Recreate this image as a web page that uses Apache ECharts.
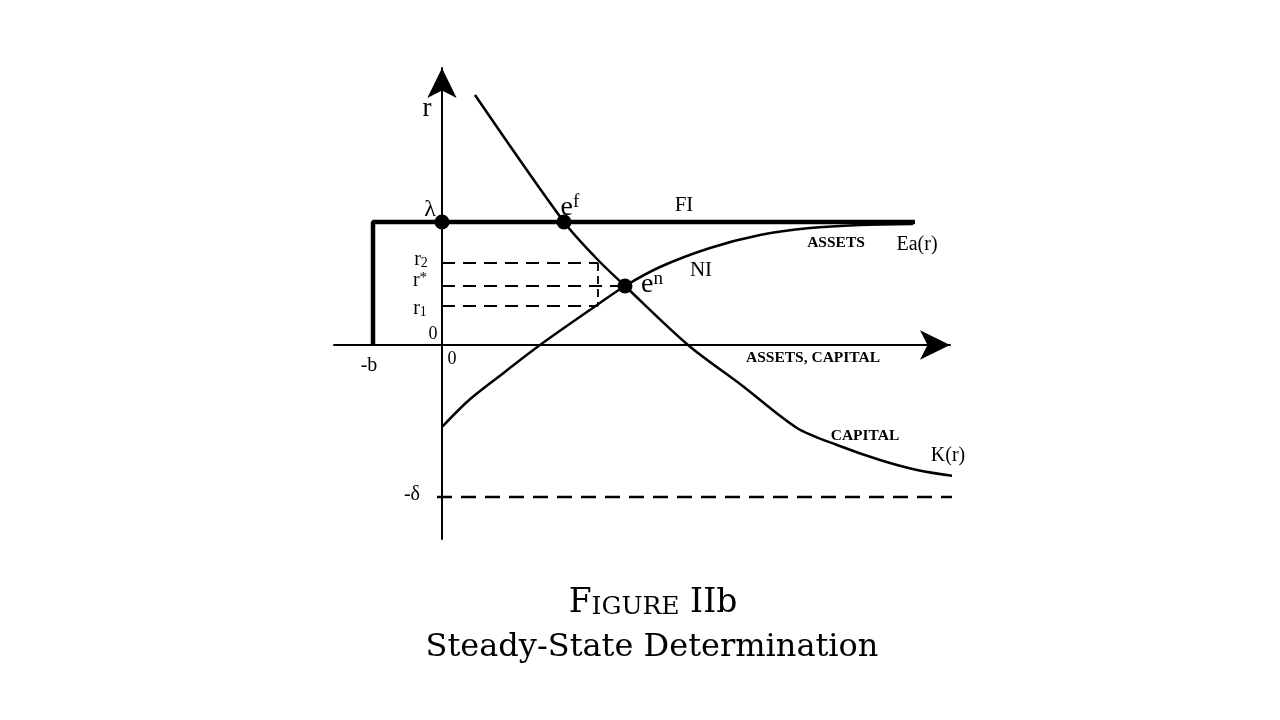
<!DOCTYPE html>
<html><head><meta charset="utf-8">
<script src="https://cdn.jsdelivr.net/npm/echarts@6/dist/echarts.min.js"></script>
<style>html,body{margin:0;background:#fff}#c{width:1280px;height:720px}</style>
</head><body><div id="c"></div>
<script>
// ---- data (x: assets/capital, y: r) ----
const capitalCurve = [[3.3,25.0],[12.2,12.3],[15.4,8.7],[18.3,5.9],[24.6,0],[30.0,-4.05],[35.5,-8.3],[39.5,-10.0],[43.8,-11.5],[47.5,-12.5],[51.1,-13.1]];
const assetsCurve = [[0,-8.2],[2.6,-5.6],[5.5,-3.3],[9.8,0],[15.5,4.0],[18.3,5.9],[21.8,7.8],[26.8,9.7],[31.8,11.0],[36.8,11.7],[41.8,12.0],[47.1,12.1]];
const fiLine = [[-6.9,0],[-6.9,12.3],[47.3,12.3]];
const r2Line = [[0,8.2],[15.6,8.2]];
const rStarLine = [[0,5.9],[18.0,5.9]];
const r1Line = [[0,3.9],[15.6,3.9]];
const rVertLine = [[15.6,8.2],[15.6,3.9]];
const deltaLine = [[-0.5,-15.2],[51.8,-15.2]];
const equilibria = [[0,12.3],[12.2,12.3],[18.3,5.9]];
const labelPos = [[-1.5,23.6],[-1.2,13.5],[12.8,13.7],[24.2,14.0],[39.4,10.2],[47.5,10.0],[25.9,7.5],[21.0,6.0],
  [-2.1,8.5],[-2.2,6.4],[-2.2,3.6],[-0.9,1.1],[1.0,-1.4],[-7.3,-2.1],[37.1,-1.3],[42.3,-9.1],[50.6,-11.1],[-3.0,-15.0]];
const labelText = ['{big|r}','{lam|λ}','{m|e}{sup|f}','{t|FI}','{sc|ASSETS}','{t2|Ea(r)}','{t|NI}','{m|e}{sup|n}',
  '{r|r}{sub|2}','{r|r}{star|*}','{r|r}{sub|1}','{z|0}','{z|0}','{t2|-b}','{sc|ASSETS, CAPITAL}','{sc|CAPITAL}','{t2|K(r)}','{t2|-δ}'];
const titleLine1 = '{a|F}{b|IGURE}{a| IIb}';
const titleLine2 = 'Steady-State Determination';

const INK = '#000';
const SERIF = 'Liberation Serif';
const chart = echarts.init(document.getElementById('c'));
function seg(data, w, type) {
  return {type:'line', data, symbol:'none', silent:true, clip:false,
    lineStyle:{color:INK, width:w, type:type||'solid', cap:'butt'}, z:3};
}
const axisCommon = {
  type:'value', axisTick:{show:false}, axisLabel:{show:false}, splitLine:{show:false},
  axisLine:{onZero:true, lineStyle:{color:INK, width:2}, symbol:['none','arrow'], symbolSize:[22,30]}
};
function txt(size, extra) { return Object.assign({fontSize:size, fontFamily:SERIF, color:INK}, extra || {}); }
chart.setOption({
  backgroundColor:'#fff',
  animation:false,
  grid:{left:334, top:68, width:616, height:471},
  xAxis:Object.assign({min:-10.8, max:50.8}, axisCommon),
  yAxis:Object.assign({min:-19.4, max:27.7}, axisCommon),
  series:[
    seg(fiLine, 4.5),
    Object.assign(seg(capitalCurve, 2.5), {smooth:0.3}),
    Object.assign(seg(assetsCurve, 2.5), {smooth:0.3}),
    seg(r2Line, 2.2, [13,8]),
    seg(rStarLine, 2.2, [13,8]),
    seg(r1Line, 2.2, [13,8]),
    seg(rVertLine, 1.8, [8,5]),
    seg(deltaLine, 2.5, [15,9]),
    {type:'scatter', data:equilibria, symbol:'circle', symbolSize:15, itemStyle:{color:INK, opacity:1}, silent:true, z:5, clip:false},
    {type:'scatter', data:labelPos, symbol:'circle', symbolSize:1, itemStyle:{color:'rgba(0,0,0,0)', opacity:1}, silent:true, z:6, clip:false,
      label:{show:true, position:'inside', align:'center', verticalAlign:'middle', color:INK, fontFamily:SERIF, opacity:1,
        formatter:p => labelText[p.dataIndex],
        rich:{
          big:txt(27),
          lam:txt(24),
          m:txt(28, {lineHeight:30}),
          sup:txt(19, {lineHeight:18, verticalAlign:'top'}),
          t:txt(21),
          t2:txt(20),
          sc:txt(15.5, {fontWeight:'bold'}),
          r:txt(20, {lineHeight:20}),
          sub:txt(14, {lineHeight:14, verticalAlign:'bottom'}),
          star:txt(15, {lineHeight:12, verticalAlign:'top'}),
          z:txt(18)
        }}}
  ],
  graphic:[
    {type:'text', x:653, y:603, style:{text:titleLine1, align:'center', verticalAlign:'middle', fill:INK,
      rich:{a:{fontSize:33, lineHeight:33, verticalAlign:'bottom', fontFamily:'DejaVu Serif', fill:INK},
            b:{fontSize:25, lineHeight:25, verticalAlign:'bottom', fontFamily:'DejaVu Serif', fill:INK}}}},
    {type:'text', x:652, y:648, style:{text:titleLine2, align:'center', verticalAlign:'middle', fill:INK,
      font:'32px "DejaVu Serif"'}}
  ]
});
</script></body></html>
